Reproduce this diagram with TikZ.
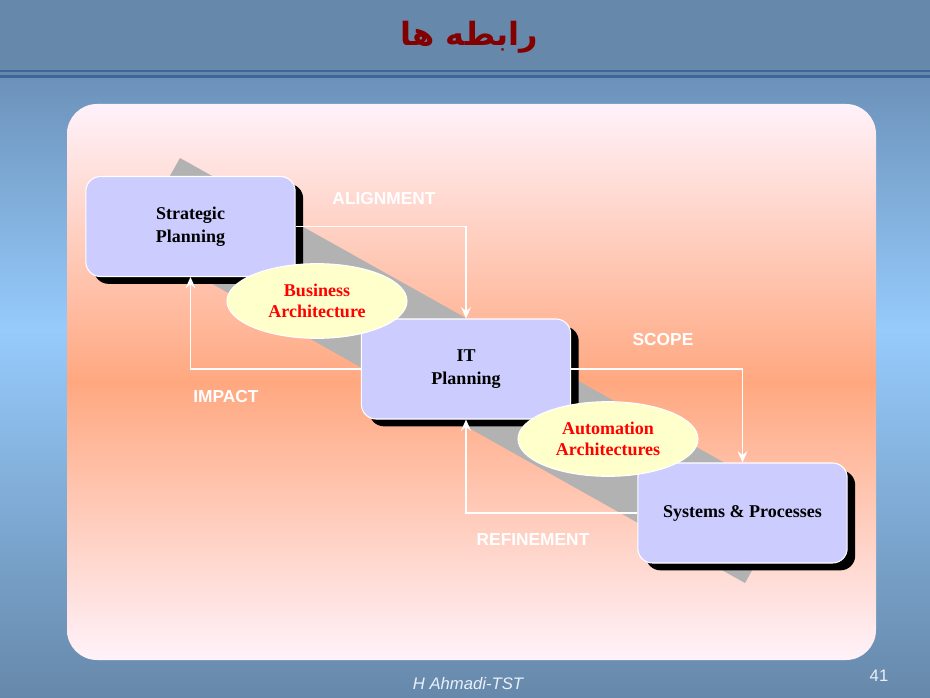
\documentclass[tikz,border=0pt]{standalone}
\usepackage{fontspec}
\setmainfont{Liberation Serif}
\setsansfont{Liberation Sans}
\newfontfamily\arabicfont[Script=Arabic]{DejaVu Sans}
\TeXXeTstate=1
\usetikzlibrary{shapes.geometric,shadows,arrows.meta}
\definecolor{steel}{RGB}{102,136,170}
\definecolor{steeltop}{RGB}{108,146,186}
\definecolor{sky}{RGB}{150,203,252}
\definecolor{rulecol}{RGB}{62,102,152}
\definecolor{panelpink}{RGB}{255,242,250}
\definecolor{salmon}{RGB}{255,168,128}
\definecolor{bandgray}{RGB}{178,178,178}
\definecolor{boxfill}{RGB}{204,204,255}
\definecolor{ellfill}{RGB}{255,255,204}
\definecolor{titlered}{RGB}{130,0,0}
\definecolor{footcol}{RGB}{235,240,250}
\tikzset{
 planbox/.style={draw=white, line width=0.8pt, fill=boxfill, rounded corners=11pt,
   minimum width=157pt, minimum height=75pt, align=center,
   font=\bfseries\fontsize{13.5}{17}\selectfont,
   general shadow={fill=black, shadow xshift=6pt, shadow yshift=-5.5pt}},
 archell/.style={ellipse, draw=white, line width=0.8pt, fill=ellfill,
   minimum width=135pt, minimum height=56pt, inner sep=0pt, align=center,
   text=red, font=\bfseries\fontsize{13.5}{16}\selectfont},
 flowlabel/.style={text=white, font=\sffamily\bfseries\fontsize{13}{15}\selectfont},
 flow/.style={draw=white, line width=1pt, -{Stealth[length=8.5pt,width=7.5pt,inset=3pt]}},
}
\begin{document}
\begin{tikzpicture}[x=0.75pt,y=-0.75pt]
\useasboundingbox (0,0) rectangle (930,698);
% background
\fill[steel] (0,0) rectangle (930,698);
\shade[top color=steeltop, bottom color=sky] (0,78) rectangle (930,330.5);
\shade[top color=sky, bottom color=steel] (0,330) rectangle (930,698);
\fill[rulecol] (0,70) rectangle (930,72.5);
\fill[rulecol] (0,75.5) rectangle (930,78);
% panel
\shade[rounded corners=22.5pt, top color=panelpink, bottom color=panelpink, middle color=salmon] (67,104) rectangle (876,660);
% gray band
\fill[bandgray] (180,158) -- (791,500) -- (745,583) -- (134,240) -- cycle;
% boxes
\node[planbox] (sp) at (190.5,226.5) {Strategic\\Planning};
\node[planbox] (it) at (466,369) {IT\\Planning};
\node[planbox] (sys) at (742.5,513) {Systems \& Processes};
% connectors
\draw[flow] (sp.east) -| (it.north);
\draw[flow] (it.west) -| (sp.south);
\draw[flow] (it.east) -| (sys.north);
\draw[flow] (sys.west) -| (it.south);
% ellipses
\node[archell] (ba) at (317,301) {Business\\Architecture};
\node[archell] (aa) at (608,439) {Automation\\Architectures};
% labels
\node[flowlabel] (lalign) at (384,199) {ALIGNMENT};
\node[flowlabel] (limpact) at (226,397) {IMPACT};
\node[flowlabel] (lscope) at (663,340) {SCOPE};
\node[flowlabel] (lrefine) at (533,540) {REFINEMENT};
% title and footer
\node[text=titlered, font=\arabicfont\bfseries\fontsize{24}{28}\selectfont] (title) at (469,37) {\beginR رابطه ها\endR};
\node[text=footcol, font=\sffamily\itshape\fontsize{12.5}{15}\selectfont] (author) at (468,684) {H Ahmadi-TST};
\node[text=footcol, font=\sffamily\fontsize{12.5}{15}\selectfont] (page) at (879,676) {41};
\end{tikzpicture}
\end{document}
